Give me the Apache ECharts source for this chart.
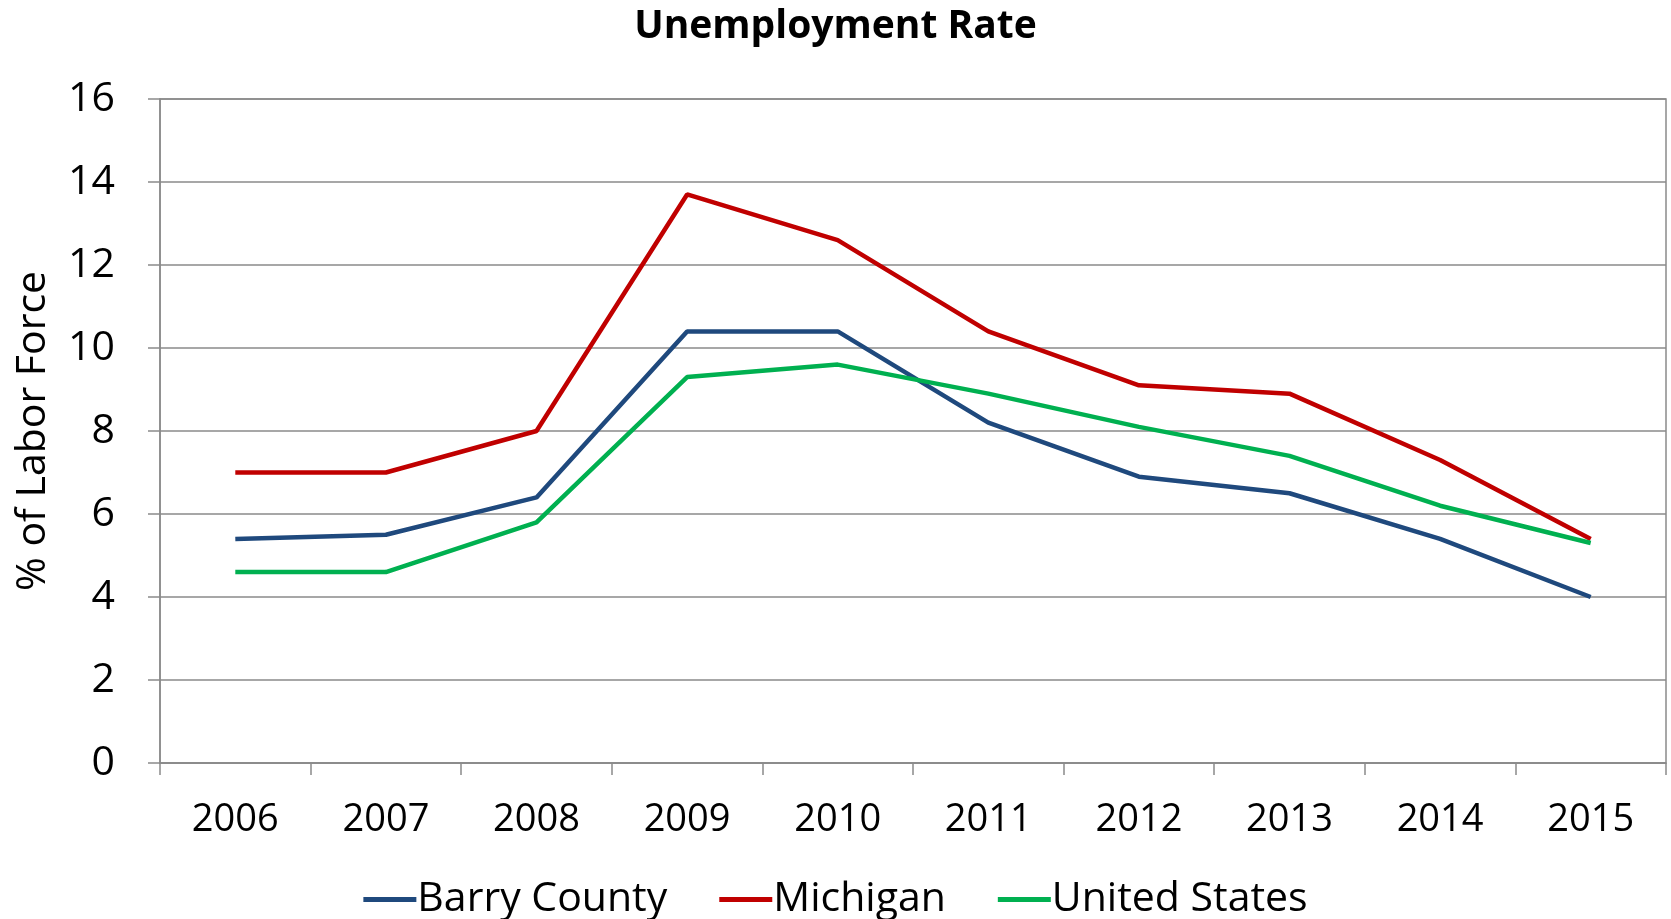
<!DOCTYPE html>
<html>
<head>
<meta charset="utf-8">
<script src="https://cdn.jsdelivr.net/npm/echarts@6/dist/echarts.min.js"></script>
<style>
html,body{margin:0;padding:0;background:#fff;}
#chart{width:1671px;height:919px;}
</style>
</head>
<body>
<div id="chart"></div>
<script>
const years = ['2006','2007','2008','2009','2010','2011','2012','2013','2014','2015'];
const barryCounty = [5.4, 5.5, 6.4, 10.4, 10.4, 8.2, 6.9, 6.5, 5.4, 4.0];
const michigan = [7.0, 7.0, 8.0, 13.7, 12.6, 10.4, 9.1, 8.9, 7.3, 5.4];
const unitedStates = [4.6, 4.6, 5.8, 9.3, 9.6, 8.9, 8.1, 7.4, 6.2, 5.3];
const seriesNames = ['Barry County', 'Michigan', 'United States'];

const FONT = '"Open Sans", sans-serif';
const GRAY = '#8a8a8a';
const chart = echarts.init(document.getElementById('chart'), null, {renderer: 'canvas'});
const colors = ['#1F497D', '#C00000', '#00B050'];
const datasets = [barryCounty, michigan, unitedStates];

chart.setOption({
  backgroundColor: '#ffffff',
  animation: false,
  title: {
    text: 'Unemployment Rate',
    left: 'center',
    top: 2,
    textStyle: {fontFamily: FONT, fontWeight: 'bold', fontSize: 39, color: '#000'}
  },
  legend: {
    bottom: -6,
    left: 'center',
    itemWidth: 53,
    itemHeight: 5,
    itemGap: 52,
    icon: 'rect',
    textStyle: {fontFamily: FONT, fontSize: 41, color: '#000', padding: [0,0,0,-4]},
    data: seriesNames
  },
  grid: {
    left: 160, right: 5, top: 99, bottom: 156,
    show: true, borderColor: GRAY, borderWidth: 1.5, backgroundColor: 'transparent'
  },
  xAxis: {
    type: 'category',
    data: years,
    boundaryGap: true,
    axisLine: {lineStyle: {color: GRAY, width: 1.5}},
    axisTick: {show: true, length: 12, lineStyle: {color: GRAY, width: 1.5}},
    axisLabel: {fontFamily: FONT, fontSize: 38, color: '#000', margin: 38}
  },
  yAxis: {
    type: 'value',
    min: 0, max: 16, interval: 2,
    name: '% of Labor Force',
    nameLocation: 'middle',
    nameGap: 106,
    nameTextStyle: {fontFamily: FONT, fontSize: 41, color: '#000'},
    axisLine: {show: true, lineStyle: {color: GRAY, width: 1.5}},
    axisTick: {show: true, length: 12, lineStyle: {color: GRAY, width: 1.5}},
    splitLine: {show: true, lineStyle: {color: GRAY, width: 1.5}},
    axisLabel: {fontFamily: FONT, fontSize: 41, color: '#000', margin: 45}
  },
  series: seriesNames.map((n, i) => ({
    name: n,
    type: 'line',
    data: datasets[i],
    symbol: 'none',
    lineStyle: {color: colors[i], width: 4.5},
    itemStyle: {color: colors[i]}
  }))
});
</script>
</body>
</html>
